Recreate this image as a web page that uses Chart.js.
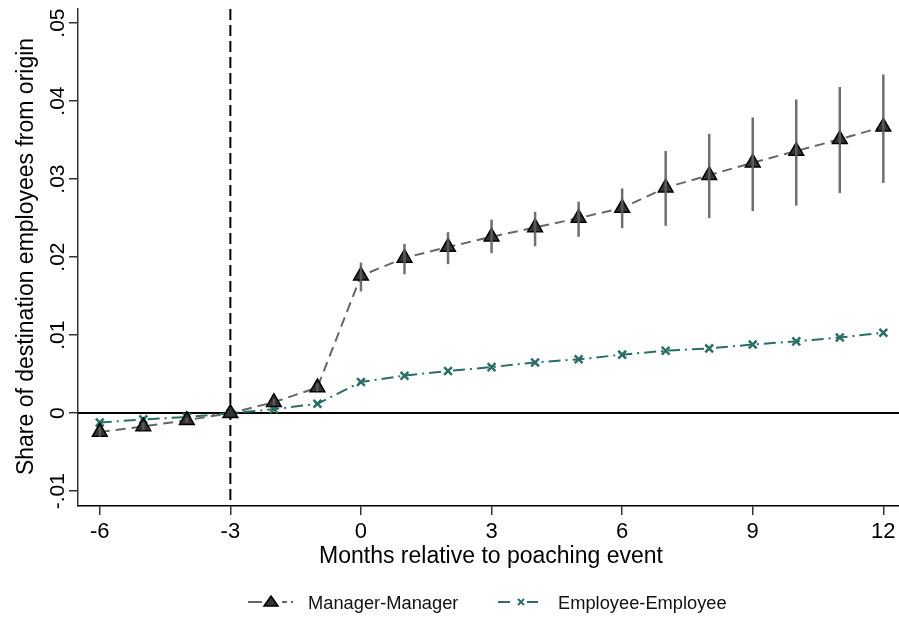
<!DOCTYPE html>
<html>
<head>
<meta charset="utf-8">
<script src="https://cdn.jsdelivr.net/npm/chart.js@4.4.1/dist/chart.umd.min.js"></script>
<style>
html,body{margin:0;padding:0;background:#fff;}
canvas{display:block;}
</style>
</head>
<body>
<canvas id="c" width="899" height="617"></canvas>
<script>
const months = [-6,-5,-4,-3,-2,-1,0,1,2,3,4,5,6,7,8,9,10,11,12];
const managerManager = [-0.0024,-0.0017,-0.0009,0,0.0014,0.0033,0.0176,0.0199,0.0213,0.0226,0.0238,0.0250,0.0263,0.0289,0.0305,0.0321,0.0336,0.0351,0.0367];
const managerLow  = [-0.0030,-0.0022,-0.0012,0,0.0010,0.0028,0.0156,0.0178,0.0191,0.0205,0.0214,0.0226,0.0237,0.0240,0.0250,0.0259,0.0266,0.0282,0.0295];
const managerHigh = [-0.0018,-0.0012,-0.0006,0,0.0018,0.0038,0.0193,0.0217,0.0232,0.0248,0.0258,0.0271,0.0288,0.0336,0.0358,0.0379,0.0402,0.0418,0.0434];
const employeeEmployee = [-0.0012,-0.0008,-0.0005,0,0.0005,0.0012,0.0040,0.0048,0.0054,0.0059,0.0065,0.0069,0.0075,0.0080,0.0083,0.0088,0.0092,0.0097,0.0103];
const xTickValues = [-6,-3,0,3,6,9,12];
const xTickLabels = ['-6','-3','0','3','6','9','12'];
const yTickValues = [-0.01,0,0.01,0.02,0.03,0.04,0.05];
const yTickLabels = ['-.01','0','.01','.02','.03','.04','.05'];
const eventMonth = -3;
const seriesNames = ['Manager-Manager','Employee-Employee'];
const xTitle = 'Months relative to poaching event';
const yTitle = 'Share of destination employees from origin';

const MGR_LINE = '#666666', MGR_FILL = '#333333', EMP = '#2a6f66';
const FONT = '"Liberation Sans", Arial, Helvetica, sans-serif';

const overlay = {
  id: 'overlay',
  beforeDatasetsDraw(chart) {
    const {ctx, chartArea: a, scales: {x, y}} = chart;
    ctx.save();
    ctx.strokeStyle = '#000'; ctx.lineWidth = 2; ctx.setLineDash([]);
    const y0 = Math.round(y.getPixelForValue(0));
    ctx.beginPath(); ctx.moveTo(a.left, y0); ctx.lineTo(a.right, y0); ctx.stroke();
    const xe = x.getPixelForValue(eventMonth);
    ctx.setLineDash([11,5]);
    ctx.beginPath(); ctx.moveTo(xe, a.top); ctx.lineTo(xe, a.bottom); ctx.stroke();
    ctx.restore();
  },
  afterDatasetsDraw(chart) {
    const {ctx, scales: {x, y}} = chart;
    ctx.save();
    ctx.strokeStyle = 'rgba(95,95,95,0.9)'; ctx.lineWidth = 2.5; ctx.setLineDash([]);
    months.forEach((m, i) => {
      const px = x.getPixelForValue(m);
      ctx.beginPath();
      ctx.moveTo(px, y.getPixelForValue(managerLow[i]));
      ctx.lineTo(px, y.getPixelForValue(managerHigh[i]));
      ctx.stroke();
    });
    ctx.restore();
  },
  afterDraw(chart) {
    const {ctx, chartArea: a, scales: {x, y}} = chart;
    ctx.save();
    ctx.fillStyle = '#000';
    ctx.font = '22px ' + FONT; ctx.textAlign = 'center'; ctx.textBaseline = 'alphabetic';
    xTickValues.forEach((v, i) => ctx.fillText(xTickLabels[i], x.getPixelForValue(v), 538));
    ctx.font = '23px ' + FONT;
    ctx.fillText(xTitle, 491, 563);
    ctx.font = '21px ' + FONT;
    yTickValues.forEach((v, i) => {
      ctx.save();
      ctx.translate(64, y.getPixelForValue(v));
      ctx.rotate(-Math.PI / 2);
      ctx.textAlign = 'center'; ctx.textBaseline = 'alphabetic';
      ctx.fillText(yTickLabels[i], 0, 0);
      ctx.restore();
    });
    ctx.save();
    ctx.font = '23px ' + FONT;
    ctx.translate(33, 256.5);
    ctx.rotate(-Math.PI / 2);
    ctx.textAlign = 'center'; ctx.textBaseline = 'alphabetic';
    ctx.fillText(yTitle, 0, 0);
    ctx.restore();
    // legend
    const ly = 602;
    ctx.lineWidth = 2;
    ctx.strokeStyle = MGR_LINE; ctx.setLineDash([]);
    ctx.beginPath(); ctx.moveTo(248, ly); ctx.lineTo(262, ly); ctx.stroke();
    ctx.beginPath(); ctx.moveTo(282, ly); ctx.lineTo(287, ly); ctx.moveTo(291, ly); ctx.lineTo(293, ly); ctx.stroke();
    ctx.fillStyle = MGR_FILL; ctx.strokeStyle = '#000'; ctx.lineWidth = 1.5;
    ctx.beginPath(); ctx.moveTo(271, ly - 6); ctx.lineTo(278, ly + 4); ctx.lineTo(264, ly + 4); ctx.closePath(); ctx.fill(); ctx.stroke();
    ctx.strokeStyle = EMP; ctx.lineWidth = 2;
    ctx.beginPath(); ctx.moveTo(498, ly); ctx.lineTo(510, ly); ctx.moveTo(527, ly); ctx.lineTo(538, ly); ctx.stroke();
    ctx.beginPath(); ctx.moveTo(518, ly - 3); ctx.lineTo(524, ly + 3); ctx.moveTo(524, ly - 3); ctx.lineTo(518, ly + 3); ctx.stroke();
    ctx.fillStyle = '#111';
    ctx.font = '18.3px ' + FONT; ctx.textAlign = 'left'; ctx.textBaseline = 'alphabetic';
    ctx.fillText(seriesNames[0], 308, 609);
    ctx.fillText(seriesNames[1], 558, 609);
    ctx.restore();
  }
};

new Chart(document.getElementById('c'), {
  type: 'line',
  data: {
    datasets: [
      {
        label: seriesNames[0],
        data: months.map((m, i) => ({x: m, y: managerManager[i]})),
        borderColor: MGR_LINE, borderWidth: 2, borderDash: [10,6],
        pointStyle: 'triangle', pointRadius: 8.5, pointBackgroundColor: MGR_FILL,
        pointBorderColor: '#000', pointBorderWidth: 1.5, order: 1
      },
      {
        label: seriesNames[1],
        data: months.map((m, i) => ({x: m, y: employeeEmployee[i]})),
        borderColor: EMP, borderWidth: 2, borderDash: [12,5,2,5],
        pointStyle: 'crossRot', pointRadius: 5.5, pointBorderColor: EMP,
        pointBorderWidth: 2.5, order: 2
      }
    ]
  },
  options: {
    responsive: false,
    animation: false,
    layout: {autoPadding: false, padding: {top: 9, right: 0, left: 0, bottom: 0}},
    plugins: {legend: {display: false}, tooltip: {enabled: false}},
    scales: {
      x: {
        type: 'linear', min: -6.5, max: 12.36,
        afterBuildTicks: s => { s.ticks = xTickValues.map(v => ({value: v})); },
        afterFit: s => { s.height = 111; },
        ticks: {display: false},
        grid: {display: true, drawOnChartArea: false, drawTicks: true, tickLength: 9, color: '#333', lineWidth: 1.5},
        border: {display: true, color: '#000', width: 1.5}
      },
      y: {
        type: 'linear', min: -0.0119, max: 0.0518,
        afterBuildTicks: s => { s.ticks = yTickValues.map(v => ({value: v})); },
        afterFit: s => { s.width = 78; },
        ticks: {display: false},
        grid: {display: true, drawOnChartArea: false, drawTicks: true, tickLength: 9, color: '#333', lineWidth: 1.5},
        border: {display: true, color: '#333', width: 1.5}
      }
    }
  },
  plugins: [overlay]
});
</script>
</body>
</html>
